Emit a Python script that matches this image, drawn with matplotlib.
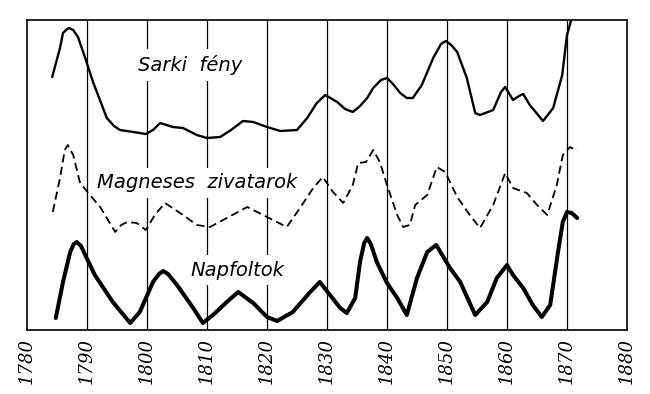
import matplotlib
matplotlib.use("Agg")
import matplotlib.pyplot as plt

# --- data (values are relative heights on the chart) ---
sarki_years = [1784.2, 1785.5, 1786.0, 1786.7, 1787.0, 1787.7, 1788.5, 1789.7, 1791.0, 1793.3,
               1794.5, 1795.5, 1798.8, 1799.8, 1801.0, 1802.2, 1804.3, 1806.0, 1808.3, 1810.0,
               1812.2, 1814.0, 1816.0, 1817.7, 1820.0, 1822.2, 1825.0, 1826.7, 1828.3, 1829.7,
               1831.7, 1833.0, 1834.3, 1835.5, 1836.7, 1837.7, 1839.0, 1840.0, 1841.0, 1842.2,
               1843.3, 1844.3, 1845.8, 1847.7, 1849.0, 1849.8, 1850.7, 1851.7, 1853.3, 1854.7,
               1855.5, 1857.7, 1859.0, 1859.7, 1861.0, 1862.0, 1862.7, 1863.8, 1866.0, 1867.7,
               1869.2, 1870.0, 1870.8, 1871.3]
sarki_px = [77, 48, 33, 29, 28, 30, 37, 58, 82, 118,
            126, 130, 133, 134, 130, 123, 127, 128, 135, 138,
            137, 130, 121, 122, 127, 131, 130, 118, 103, 95,
            102, 109, 112, 106, 98, 88, 80, 78, 84, 93,
            98, 98, 85, 58, 44, 41, 45, 52, 78, 113,
            115, 110, 92, 87, 100, 96, 94, 105, 121, 108,
            75, 35, 18, 8]
sarki = [330 - p for p in sarki_px]

magn_years = [1784.3, 1785.5, 1786.3, 1786.8, 1787.7, 1788.8, 1790.2, 1792.2, 1794.7, 1795.7,
              1796.7, 1798.3, 1799.8, 1801.3, 1803.0, 1806.0, 1808.3, 1810.5, 1813.3, 1816.7,
              1820.0, 1823.3, 1825.5, 1827.7, 1829.3, 1831.0, 1832.7, 1834.3, 1835.2, 1836.5,
              1837.7, 1838.8, 1840.0, 1841.7, 1842.7, 1843.8, 1844.7, 1846.7, 1848.3, 1849.7,
              1851.7, 1853.8, 1855.5, 1857.7, 1859.7, 1861.0, 1863.3, 1865.0, 1866.7, 1868.3,
              1869.3, 1870.5, 1871.7]
magn_px = [212, 178, 150, 145, 155, 182, 193, 207, 232, 225,
           222, 223, 230, 215, 203, 215, 225, 227, 218, 207,
           217, 227, 208, 188, 177, 192, 203, 185, 163, 162,
           150, 162, 185, 215, 227, 225, 205, 195, 167, 172,
           197, 215, 228, 205, 173, 188, 193, 205, 215, 185,
           155, 147, 151]
magn = [330 - p for p in magn_px]

nap_years = [1784.8, 1786.0, 1787.2, 1787.8, 1788.3, 1789.0, 1789.7, 1791.3, 1794.3, 1797.2,
             1798.8, 1801.0, 1802.0, 1802.7, 1803.5, 1805.0, 1807.7, 1809.3, 1811.0, 1813.3,
             1815.2, 1817.7, 1820.0, 1821.7, 1824.3, 1827.2, 1828.8, 1830.5, 1832.2, 1833.3,
             1834.7, 1835.5, 1836.2, 1836.7, 1837.3, 1838.3, 1840.0, 1841.7, 1843.3, 1845.0,
             1846.7, 1848.2, 1849.2, 1850.5, 1852.2, 1854.7, 1856.7, 1858.3, 1860.0, 1861.0,
             1862.7, 1864.3, 1865.8, 1867.2, 1868.5, 1869.3, 1870.0, 1870.8, 1871.7]
nap_px = [318, 282, 252, 244, 242, 246, 255, 275, 302, 323,
          312, 282, 274, 271, 274, 285, 308, 323, 315, 302,
          292, 303, 317, 321, 312, 292, 282, 295, 308, 313,
          298, 262, 243, 238, 244, 262, 283, 298, 315, 278,
          252, 245, 255, 268, 282, 315, 302, 278, 265, 275,
          288, 305, 317, 305, 252, 222, 212, 213, 218]
nap = [330 - p for p in nap_px]

tick_years = list(range(1780, 1890, 10))
tick_labels = [str(y) for y in tick_years]

# --- figure ---
fig = plt.figure(figsize=(6.5, 3.94), dpi=100)
ax = fig.add_axes([27 / 650, 1 - 330 / 394, 600 / 650, 310 / 394])
ax.set_xlim(1780, 1880)
ax.set_ylim(0, 310)

for y in tick_years[1:-1]:
    ax.axvline(y, color="black", lw=0.9, zorder=1)

ax.plot(sarki_years, sarki, color="black", lw=1.7, zorder=3,
        solid_capstyle="round", solid_joinstyle="round")
ax.plot(magn_years, magn, color="black", lw=1.3, zorder=3, dashes=(4.5, 2.5))
ax.plot(nap_years, nap, color="black", lw=2.9, zorder=3,
        solid_capstyle="round", solid_joinstyle="round")

box = dict(facecolor="white", edgecolor="none", pad=4)
ax.text(1807.2, 330 - 65, "Sarki  fény", fontsize=14, style="italic", ha="center",
        va="center", bbox=box, zorder=2)
ax.text(1808.3, 330 - 183, "Magneses  zivatarok", fontsize=14, style="italic", ha="center",
        va="center", bbox=box, zorder=2)
ax.text(1815.0, 330 - 270, "Napfoltok", fontsize=14, style="italic", ha="center",
        va="center", bbox=box, zorder=2)

ax.set_xticks(tick_years)
ax.set_xticklabels(tick_labels, rotation=90, fontsize=13, family="DejaVu Serif",
                   style="italic")
ax.tick_params(axis="x", length=0, pad=6)
ax.set_yticks([])
for s in ax.spines.values():
    s.set_linewidth(1.2)

fig.savefig("out.png", dpi=100)
